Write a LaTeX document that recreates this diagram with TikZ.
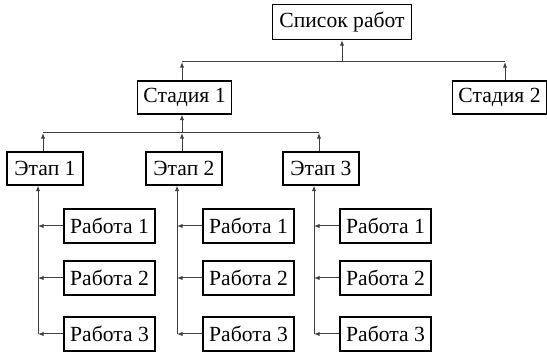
\documentclass[tikz,border=0pt]{standalone}
\usepackage{fontspec}
\setmainfont{Liberation Serif}
\usetikzlibrary{arrows.meta}
\tikzset{
  box/.style={draw,line width=0.6pt,inner sep=0pt,minimum height=16.5pt,
    font=\fontsize{10.8}{12}\selectfont},
  topbox/.style={box,minimum width=69.5pt,minimum height=17.5pt},
  stagebox/.style={box,minimum width=47pt},
  phasebox/.style={box,minimum width=38pt},
  jobbox/.style={box,minimum width=45.5pt,minimum height=17pt},
  conn/.style={black!75,line width=0.5pt},
  arr/.style={conn,-{Latex[length=2.8pt,width=2.2pt]}}
}
\begin{document}
\begin{tikzpicture}[x=0.5pt,y=-0.5pt]
  \useasboundingbox (0,0) rectangle (547,352);
  \node[topbox] (list) at (342,22) {Список работ};
  \node[stagebox] (st1) at (184.5,97.5) {Стадия 1};
  \node[stagebox] (st2) at (499.5,97.5) {Стадия 2};
  % upper bus
  \coordinate (b1) at (342,62);
  \coordinate (b1l) at (182,62);
  \coordinate (b1r) at (505,62);
  \draw[conn] (b1l) -- (b1r);
  \draw[arr] (b1) -- (list.south);
  \draw[arr] (st1.north -| b1l) -- (b1l);
  \draw[arr] (st2.north -| b1r) -- (b1r);
  % lower bus
  \coordinate (b2) at (182,133);
  \draw[arr] (b2) -- (st1.south -| b2);
  \foreach \i/\x in {1/45,2/184,3/321} {
    \node[phasebox] (ph\i) at (\x,168.5) {Этап \i};
    \coordinate (t\i) at (\x-2,133);
    \draw[arr] (ph\i.north -| t\i) -- (t\i);
    \coordinate (v\i) at (\x-7,334);
    \draw[arr] (v\i) -- (ph\i.south -| v\i);
    \foreach \j/\y in {1/226,2/278,3/334} {
      \node[jobbox] (job\i\j) at (\x+64.5,\y) {Работа \j};
      \draw[arr] (job\i\j.west) -- (job\i\j.west -| v\i);
    }
  }
  \draw[conn] (t1) -- (t3);
\end{tikzpicture}
\end{document}
